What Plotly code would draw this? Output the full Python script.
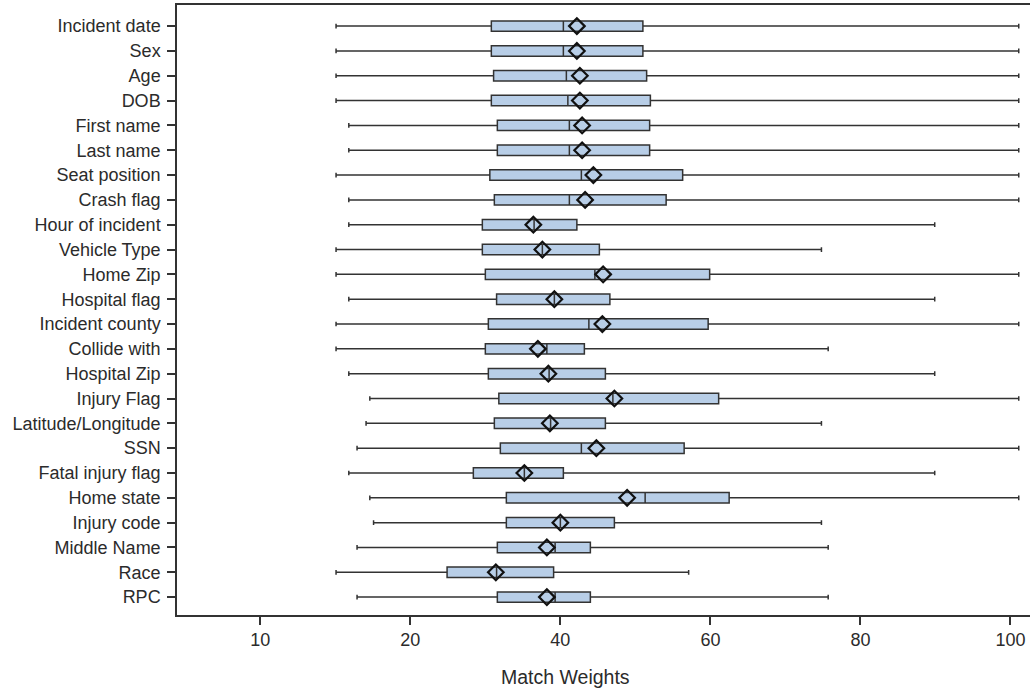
import plotly.graph_objects as go

categories = ["Incident date", "Sex", "Age", "DOB", "First name", "Last name",
              "Seat position", "Crash flag", "Hour of incident", "Vehicle Type",
              "Home Zip", "Hospital flag", "Incident county", "Collide with",
              "Hospital Zip", "Injury Flag", "Latitude/Longitude", "SSN",
              "Fatal injury flag", "Home state", "Injury code", "Middle Name",
              "Race", "RPC"]

whisker_min = [10.1, 10.1, 10.1, 10.1, 11.8, 11.8, 10.1, 11.8, 11.8, 10.1,
               10.1, 11.8, 10.1, 10.1, 11.8, 14.6, 14.1, 12.9, 11.8, 14.6,
               15.1, 12.9, 10.1, 12.9]
q1_vals = [30.8, 30.8, 31.1, 30.8, 31.6, 31.6, 30.6, 31.2, 29.6, 29.6,
           30.0, 31.5, 30.4, 30.0, 30.4, 31.8, 31.2, 32.0, 28.4, 32.8,
           32.8, 31.6, 24.9, 31.6]
median_vals = [40.4, 40.4, 40.8, 41.0, 41.2, 41.2, 42.8, 41.2, 36.5, 37.6,
               44.6, 39.2, 43.8, 38.2, 38.5, 47.0, 38.7, 42.8, 35.2, 51.3,
               40.0, 39.3, 31.5, 39.3]
q3_vals = [51.0, 51.0, 51.5, 52.0, 51.9, 51.9, 56.3, 54.1, 42.2, 45.2,
           59.9, 46.6, 59.7, 43.2, 46.0, 61.1, 46.0, 56.5, 40.4, 62.5,
           47.2, 44.0, 39.1, 44.0]
whisker_max = [101.1, 101.1, 101.1, 101.1, 101.1, 101.1, 101.1, 101.1, 89.9, 74.8,
               101.1, 89.9, 101.1, 75.7, 89.9, 101.1, 74.8, 101.1, 89.9, 101.1,
               74.8, 75.7, 57.1, 75.7]
mean_vals = [42.2, 42.2, 42.6, 42.6, 42.9, 42.9, 44.4, 43.3, 36.4, 37.6,
             45.7, 39.2, 45.6, 37.0, 38.4, 47.2, 38.6, 44.8, 35.2, 48.9,
             40.0, 38.2, 31.4, 38.2]

x_tickvals = [0, 20, 40, 60, 80, 100]
x_ticktext = ["10", "20", "40", "60", "80", "100"]

FONT = "Liberation Sans, Arial, sans-serif"
INK = "#2b2b2b"

fig = go.Figure()
fig.add_trace(go.Box(
    orientation="h",
    y=categories,
    q1=q1_vals, median=median_vals, q3=q3_vals,
    lowerfence=whisker_min, upperfence=whisker_max,
    boxpoints=False,
    fillcolor="#B8CEE7",
    line=dict(color="#333333", width=1.5),
    width=0.42,
    whiskerwidth=0.45,
    showlegend=False,
    hoverinfo="skip",
))
fig.add_trace(go.Scatter(
    x=mean_vals, y=categories, mode="markers",
    marker=dict(symbol="diamond-open", size=12, color="#111111",
                line=dict(color="#111111", width=2.2)),
    showlegend=False, hoverinfo="skip",
))

fig.update_layout(
    width=1030, height=690,
    margin=dict(l=177, r=0, t=5, b=75),
    paper_bgcolor="white", plot_bgcolor="white",
    font=dict(family=FONT, size=18, color=INK),
    annotations=[dict(text="Match Weights", xref="paper", yref="paper",
                      x=0.455, y=0, yshift=-62, xanchor="center", yanchor="middle",
                      showarrow=False, font=dict(family=FONT, size=19.5, color=INK))],
)
fig.update_xaxes(
    range=[-11.1, 102.6], tickvals=x_tickvals, ticktext=x_ticktext,
    showgrid=False, zeroline=False,
    showline=True, linecolor="#333333", linewidth=1.5, mirror=True,
    ticks="outside", ticklen=8, tickwidth=1.5, tickcolor="#333333",
    tickfont=dict(family=FONT, size=18, color=INK),
)
fig.update_yaxes(
    type="category", categoryorder="array", categoryarray=categories,
    range=[23.72, -0.85],
    showgrid=False, zeroline=False,
    showline=True, linecolor="#333333", linewidth=1.5, mirror=False,
    ticks="outside", ticklen=8, tickwidth=1.5, tickcolor="#333333",
    ticklabelstandoff=3,
    tickfont=dict(family=FONT, size=18, color=INK),
)

fig.write_html("out.html")
